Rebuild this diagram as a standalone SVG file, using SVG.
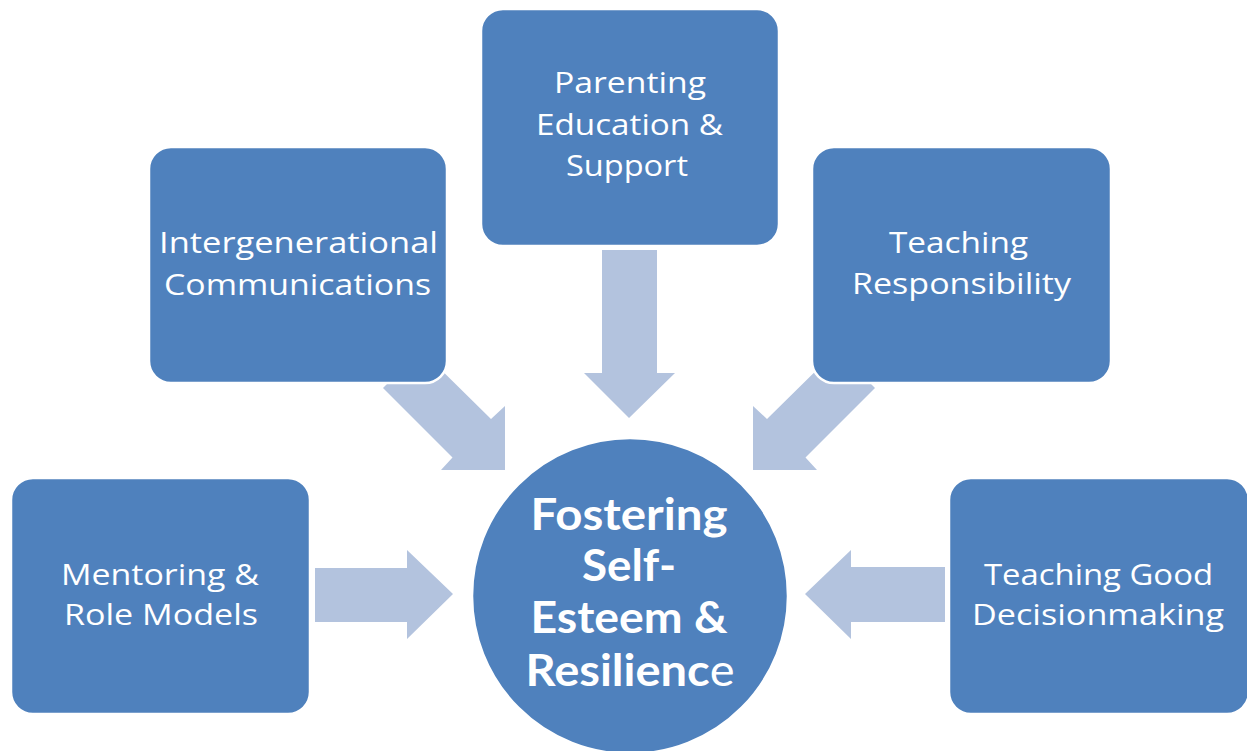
<svg xmlns="http://www.w3.org/2000/svg" width="1247" height="751" viewBox="0 0 1247 751">
<style>
.box{fill:#4F81BD;stroke:#FFFFFF;stroke-width:2.5}
.arr{fill:#B3C3DE}
.t{font-family:"Open Sans",Lato,"Liberation Sans",sans-serif;font-size:29px;fill:#FFFFFF;text-anchor:middle}
.c{font-family:Lato,"Open Sans","Liberation Sans",sans-serif;font-size:44px;font-weight:bold;fill:#FFFFFF;text-anchor:middle}
</style>
<rect width="1247" height="751" fill="#FFFFFF"/>
<g id="connectors">
<polygon class="arr" points="602,250 657,250 657,373 675,373 629,418 584,373 602,373"/>
<polygon class="arr" points="421,350 491,419 505,406 505,470 441,470 452.5,457.5 383,388"/>
<polygon class="arr" points="837,350 767,419 753,406 753,470 817,470 805.5,457.5 875,388"/>
<polygon class="arr" points="315,568 407,568 407,550 453,594 407,639 407,622 315,622"/>
<polygon class="arr" points="945,567 851,567 851,550 805,594 851,639 851,622 945,622"/>
</g>
<g id="parenting">
<rect class="box" x="481" y="9" width="298" height="237" rx="22"/>
<text class="t" x="630" y="93" textLength="152" lengthAdjust="spacingAndGlyphs">Parenting</text>
<text class="t" x="629.5" y="135" textLength="187" lengthAdjust="spacingAndGlyphs">Education &amp;</text>
<text class="t" x="627" y="176" textLength="122" lengthAdjust="spacingAndGlyphs">Support</text>
</g>
<g id="intergenerational">
<rect class="box" x="149" y="147" width="298" height="236" rx="22"/>
<text class="t" x="298.5" y="253" textLength="279" lengthAdjust="spacingAndGlyphs">Intergenerational</text>
<text class="t" x="297.5" y="295" textLength="267" lengthAdjust="spacingAndGlyphs">Communications</text>
</g>
<g id="responsibility">
<rect class="box" x="812" y="147" width="299" height="236" rx="22"/>
<text class="t" x="958.5" y="253" textLength="139" lengthAdjust="spacingAndGlyphs">Teaching</text>
<text class="t" x="961.5" y="294" textLength="219" lengthAdjust="spacingAndGlyphs">Responsibility</text>
</g>
<g id="mentoring">
<rect class="box" x="11" y="478" width="299" height="236" rx="22"/>
<text class="t" x="160" y="585" textLength="198" lengthAdjust="spacingAndGlyphs">Mentoring &amp;</text>
<text class="t" x="161" y="625" textLength="194" lengthAdjust="spacingAndGlyphs">Role Models</text>
</g>
<g id="decisionmaking">
<rect class="box" x="949" y="478" width="300" height="236" rx="22"/>
<text class="t" x="1098.5" y="585" textLength="229" lengthAdjust="spacingAndGlyphs">Teaching Good</text>
<text class="t" x="1098" y="625" textLength="252" lengthAdjust="spacingAndGlyphs">Decisionmaking</text>
</g>
<g id="center">
<circle cx="630" cy="596" r="158" fill="#4F81BD" stroke="#FFFFFF" stroke-width="2.5"/>
<text class="c" x="629" y="530" textLength="197" lengthAdjust="spacingAndGlyphs">Fostering</text>
<text class="c" x="629" y="581" textLength="94" lengthAdjust="spacingAndGlyphs">Self-</text>
<text class="c" x="629" y="633" textLength="197" lengthAdjust="spacingAndGlyphs">Esteem &amp;</text>
<text class="c" x="630" y="686" textLength="209" lengthAdjust="spacingAndGlyphs">Resilienc<tspan font-weight="normal">e</tspan></text>
</g>
</svg>
